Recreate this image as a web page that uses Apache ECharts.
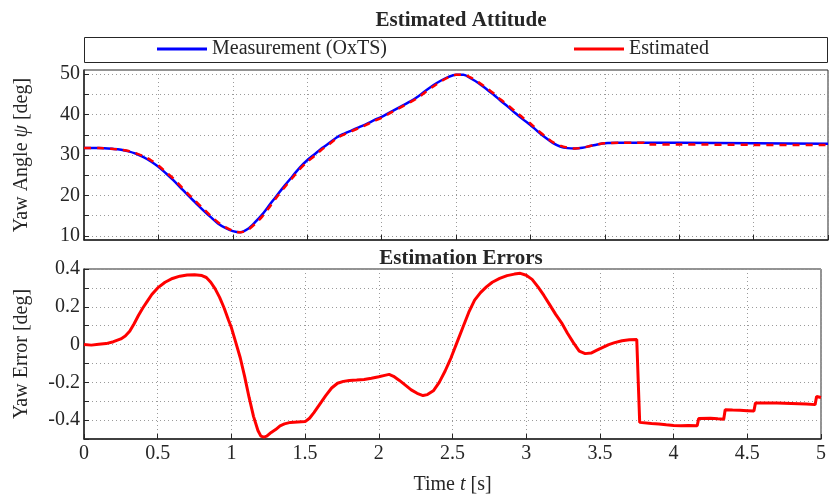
<!DOCTYPE html>
<html>
<head>
<meta charset="utf-8">
<title>Estimated Attitude</title>
<script src="https://cdn.jsdelivr.net/npm/echarts@6/dist/echarts.min.js"></script>
<style>
    html, body { margin: 0; padding: 0; background: #fff; }
    #chart { width: 829px; height: 501px; }
</style>
</head>
<body>
<div id="chart"></div>
<script>
// 姿态数据 (时间 s / 偏航角 deg)
const attTime = [0, 0.1, 0.2, 0.25, 0.3, 0.35, 0.4, 0.45, 0.5, 0.55, 0.6, 0.65, 0.7, 0.75, 0.8, 0.85, 0.9, 0.95,
    1.0, 1.05, 1.1, 1.15, 1.2, 1.25, 1.3, 1.35, 1.4, 1.45, 1.5, 1.55, 1.6, 1.65, 1.7, 1.75, 1.8, 1.85, 1.9, 1.95,
    2.0, 2.05, 2.1, 2.15, 2.2, 2.25, 2.3, 2.35, 2.4, 2.45, 2.5, 2.55, 2.6, 2.65, 2.7, 2.75, 2.8, 2.85, 2.9, 2.95,
    3.0, 3.05, 3.1, 3.15, 3.2, 3.25, 3.3, 3.35, 3.4, 3.45, 3.5, 3.6, 3.7, 3.76, 3.77, 3.8, 4.0, 4.5, 5.0];

const measYaw = [31.7, 31.7, 31.5, 31.3, 30.9, 30.3, 29.5, 28.4, 27.1, 25.5, 23.8, 21.9, 20.0, 18.2, 16.4, 14.7, 13.1, 12.0,
    11.2, 10.9, 11.7, 13.4, 15.4, 17.8, 20.2, 22.5, 24.7, 26.9, 28.7, 30.2, 31.7, 33.0, 34.4, 35.3, 36.1, 36.9, 37.7, 38.6,
    39.4, 40.4, 41.4, 42.4, 43.4, 44.6, 46.0, 47.3, 48.4, 49.3, 49.8, 49.8, 48.9, 47.8, 46.4, 45.0, 43.4, 41.9, 40.3, 38.8,
    37.4, 35.8, 34.3, 33.0, 32.1, 31.7, 31.6, 31.8, 32.2, 32.6, 32.9, 33.0, 33.0, 33.0, 33.0, 33.0, 33.0, 32.9, 32.8];

const estYaw = [31.7, 31.7, 31.5, 31.3, 31.0, 30.4, 29.7, 28.7, 27.4, 25.8, 24.2, 22.3, 20.4, 18.6, 16.8, 15.0, 13.4, 12.2,
    11.3, 10.9, 11.5, 13.0, 14.9, 17.3, 19.8, 22.1, 24.3, 26.5, 28.3, 29.8, 31.4, 32.7, 34.2, 35.1, 35.9, 36.7, 37.5, 38.4,
    39.2, 40.2, 41.2, 42.2, 43.2, 44.3, 45.7, 47.0, 48.2, 49.2, 49.8, 49.8, 49.1, 48.0, 46.7, 45.3, 43.7, 42.3, 40.7, 39.2,
    37.8, 36.1, 34.6, 33.2, 32.3, 31.8, 31.6, 31.8, 32.2, 32.6, 32.9, 33.0, 33.0, 33.0, 32.6, 32.6, 32.6, 32.5, 32.5];

// 估计误差 (deg)
const errTime = [0, 0.05, 0.1, 0.15, 0.2, 0.25, 0.28, 0.31, 0.34, 0.37, 0.4, 0.43, 0.46, 0.5, 0.55, 0.6, 0.65, 0.7, 0.75,
    0.8, 0.83, 0.86, 0.89, 0.92, 0.95, 0.98, 1.0, 1.03, 1.06, 1.09, 1.12, 1.15, 1.18, 1.2, 1.22, 1.24, 1.27, 1.3, 1.33, 1.36,
    1.4, 1.45, 1.5, 1.53, 1.56, 1.6, 1.64, 1.68, 1.72, 1.76, 1.8, 1.85, 1.9, 1.95, 2.0, 2.04, 2.07, 2.1, 2.14, 2.18, 2.22,
    2.26, 2.3, 2.33, 2.37, 2.41, 2.45, 2.49, 2.53, 2.57, 2.61, 2.65, 2.69, 2.73, 2.77, 2.82, 2.87, 2.92, 2.96, 3.0, 3.04,
    3.08, 3.12, 3.16, 3.2, 3.24, 3.28, 3.32, 3.36, 3.4, 3.44, 3.48, 3.52, 3.56, 3.6, 3.65, 3.7, 3.75, 3.76, 3.77, 3.85,
    3.9, 3.95, 4.0, 4.05, 4.1, 4.16, 4.17, 4.25, 4.3, 4.34, 4.35, 4.4, 4.45, 4.5, 4.545, 4.555, 4.6, 4.7, 4.8, 4.9, 4.96,
    4.97, 5.0];

const errVal = [0.000, -0.003, 0.002, 0.005, 0.015, 0.03, 0.045, 0.07, 0.11, 0.155, 0.195, 0.23, 0.265, 0.30, 0.33, 0.35, 0.362, 0.368, 0.37,
    0.365, 0.355, 0.33, 0.295, 0.25, 0.195, 0.13, 0.09, 0.01, -0.07, -0.17, -0.28, -0.38, -0.455, -0.485, -0.49, -0.485, -0.465, -0.45, -0.43, -0.42,
    -0.412, -0.41, -0.408, -0.39, -0.36, -0.315, -0.27, -0.23, -0.205, -0.195, -0.19, -0.188, -0.185, -0.178, -0.17, -0.163, -0.158, -0.168, -0.19, -0.215, -0.24,
    -0.258, -0.27, -0.265, -0.245, -0.2, -0.14, -0.07, 0.01, 0.09, 0.17, 0.235, 0.275, 0.305, 0.33, 0.35, 0.365, 0.373, 0.377, 0.367, 0.345,
    0.305, 0.26, 0.21, 0.16, 0.115, 0.06, 0.01, -0.035, -0.048, -0.045, -0.03, -0.015, 0.0, 0.01, 0.02, 0.025, 0.027, 0.025, -0.412, -0.418,
    -0.42, -0.425, -0.428, -0.43, -0.428, -0.43, -0.392, -0.39, -0.393, -0.395, -0.345, -0.347, -0.348, -0.35, -0.352, -0.31, -0.31, -0.31, -0.312, -0.315, -0.318,
    -0.275, -0.28];

// 坐标轴刻度
const timeTicks = [0, 0.5, 1, 1.5, 2, 2.5, 3, 3.5, 4, 4.5, 5];
const yawLabels = [10, 20, 30, 40, 50];
const yawGrid = [10, 15, 20, 25, 30, 35, 40, 45, 50];

const zip = (xs, ys) => xs.map((x, i) => [x, ys[i]]);

const FONT = 'Liberation Serif';
const INK = '#262626';
const dotted = { show: true, lineStyle: { color: '#9a9a9a', type: [1, 3], width: 1 } };

const chart = echarts.init(document.getElementById('chart'));

const timeAxis = (gridIndex, showLabel) => ({
    type: 'value',
    gridIndex: gridIndex,
    min: 0,
    max: 5,
    interval: 0.5,
    axisLine: { show: true, onZero: false, lineStyle: { color: INK, width: 1.5 } },
    axisTick: { show: true, inside: true, length: 5, lineStyle: { color: INK } },
    axisLabel: {
        show: showLabel,
        fontFamily: FONT,
        fontSize: 20,
        color: INK,
        margin: 5,
        customValues: timeTicks
    },
    splitLine: dotted,
    name: showLabel ? 'Time {i|t} [s]' : '',
    nameLocation: 'middle',
    nameGap: 36,
    nameTextStyle: {
        fontFamily: FONT,
        fontSize: 20,
        color: INK,
        rich: { i: { fontFamily: FONT, fontSize: 20, fontStyle: 'italic', color: INK } }
    }
});

chart.setOption({
    animation: false,
    backgroundColor: '#fff',
    title: [
        {
            text: 'Estimated Attitude',
            left: 456,
            textAlign: 'center',
            top: 5,
            textStyle: { fontFamily: FONT, fontSize: 21, fontWeight: 'bold', color: INK }
        },
        {
            text: 'Estimation Errors',
            left: 456,
            textAlign: 'center',
            top: 243,
            textStyle: { fontFamily: FONT, fontSize: 21, fontWeight: 'bold', color: INK }
        }
    ],
    graphic: [{
        type: 'rect',
        shape: { x: 84.5, y: 37.5, width: 743, height: 25 },
        style: { fill: 'none', stroke: INK, lineWidth: 1 }
    }],
    legend: [
        {
            data: ['Measurement (OxTS)'],
            left: 157,
            top: 39,
            padding: 0,
            icon: 'rect',
            itemWidth: 50,
            itemHeight: 3,
            textStyle: { fontFamily: FONT, fontSize: 20, color: INK }
        },
        {
            data: ['Estimated'],
            left: 574,
            top: 39,
            padding: 0,
            icon: 'rect',
            itemWidth: 50,
            itemHeight: 3,
            textStyle: { fontFamily: FONT, fontSize: 20, color: INK }
        }
    ],
    grid: [
        { left: 84, right: 1, top: 70, height: 170, show: true, borderColor: INK, borderWidth: 1 },
        { left: 84, right: 1, top: 269, height: 170, show: true, borderColor: INK, borderWidth: 1 }
    ],
    xAxis: [timeAxis(0, false), timeAxis(1, true)],
    yAxis: [
        {
            type: 'value',
            gridIndex: 0,
            min: 9,
            max: 51,
            axisLine: { show: true, lineStyle: { color: INK, width: 1.5 } },
            axisTick: { show: true, inside: true, length: 5, lineStyle: { color: INK }, customValues: yawGrid },
            axisLabel: { fontFamily: FONT, fontSize: 20, color: INK, margin: 4, customValues: yawLabels },
            splitLine: dotted,
            name: 'Yaw Angle {i|ψ} [deg]',
            nameLocation: 'middle',
            nameGap: 52,
            nameTextStyle: {
                fontFamily: FONT,
                fontSize: 20,
                color: INK,
                rich: { i: { fontFamily: FONT, fontSize: 20, fontStyle: 'italic', color: INK } }
            }
        },
        {
            type: 'value',
            gridIndex: 1,
            min: -0.5,
            max: 0.4,
            interval: 0.1,
            axisLine: { show: true, lineStyle: { color: INK, width: 1.5 } },
            axisTick: { show: true, inside: true, length: 5, lineStyle: { color: INK } },
            axisLabel: {
                fontFamily: FONT,
                fontSize: 20,
                color: INK,
                margin: 4,
                formatter: function (v) {
                    const k = Math.round(v * 10);
                    if (k % 2 !== 0 || k === -5) return '';
                    return String(k / 10);
                }
            },
            splitLine: dotted,
            name: 'Yaw Error [deg]',
            nameLocation: 'middle',
            nameGap: 52,
            nameTextStyle: { fontFamily: FONT, fontSize: 20, color: INK }
        }
    ],
    series: [
        {
            name: 'Measurement (OxTS)',
            type: 'line',
            xAxisIndex: 0,
            yAxisIndex: 0,
            data: zip(attTime, measYaw),
            smooth: 0.3,
            showSymbol: false,
            itemStyle: { color: '#0000ff' },
            lineStyle: { color: '#0000ff', width: 2.5 },
            z: 2
        },
        {
            name: 'Estimated',
            type: 'line',
            xAxisIndex: 0,
            yAxisIndex: 0,
            data: zip(attTime, estYaw),
            smooth: 0.3,
            showSymbol: false,
            itemStyle: { color: '#ff0000' },
            lineStyle: { color: '#ff0000', width: 2.5, type: [7, 6] },
            z: 3
        },
        {
            name: 'Estimation Error',
            type: 'line',
            xAxisIndex: 1,
            yAxisIndex: 1,
            data: zip(errTime, errVal),
            showSymbol: false,
            itemStyle: { color: '#ff0000' },
            lineStyle: { color: '#ff0000', width: 3 },
            z: 3
        }
    ]
});
</script>
</body>
</html>
